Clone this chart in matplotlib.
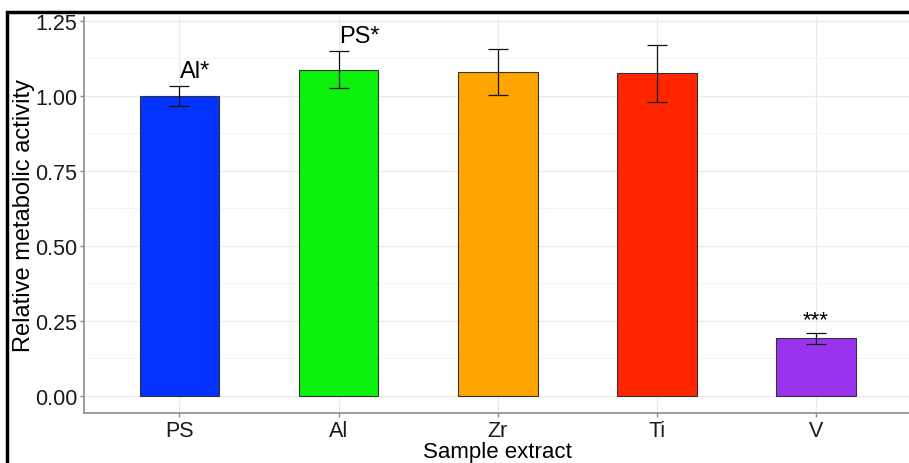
import matplotlib
matplotlib.use("Agg")
import matplotlib.pyplot as plt
from matplotlib.patches import Rectangle
from matplotlib.ticker import MultipleLocator

plt.rcParams['font.family'] = ['Liberation Sans', 'DejaVu Sans']

categories = ["PS", "Al", "Zr", "Ti", "V"]
means = [1.00, 1.088, 1.080, 1.075, 0.192]
errors = [0.033, 0.062, 0.078, 0.095, 0.018]
colors = ["#0433FF", "#0DF20D", "#FFA500", "#FF2600", "#9A33EE"]
y_ticks = [0.00, 0.25, 0.50, 0.75, 1.00, 1.25]
y_tick_labels = ["0.00", "0.25", "0.50", "0.75", "1.00", "1.25"]

fig = plt.figure(figsize=(9.09, 4.64), dpi=100)
ax = fig.add_axes([84/909, 1-414/464, (911.6-84)/909, (414-18)/464])

x = list(range(1, len(categories)+1))
ax.bar(x, means, width=0.5, color=colors, edgecolor="#333333", linewidth=0.8, zorder=3)
ax.errorbar(x, means, yerr=errors, fmt="none", ecolor="#111111", elinewidth=0.9,
            capsize=7, capthick=0.9, zorder=4)

# annotations
ax.text(1, 1.00 + 0.033 + 0.012, "Al*", ha="left", va="bottom", fontsize=17, zorder=5)
ax.text(2, 1.088 + 0.062 + 0.012, "PS*", ha="left", va="bottom", fontsize=17, zorder=5)
ax.text(5, 0.192 + 0.018 + 0.008, "***", ha="center", va="bottom", fontsize=16, zorder=5)

ax.set_xlim(0.4, 5.6)
ax.set_ylim(-0.057, 1.263)
ax.set_xticks(x)
ax.set_xticklabels(categories, fontsize=15.5)
ax.set_yticks(y_ticks)
ax.set_yticklabels(y_tick_labels, fontsize=15.5)
ax.yaxis.set_minor_locator(MultipleLocator(0.125))

ax.grid(True, which="major", color="#EBEBEB", linewidth=1.0, zorder=0)
ax.grid(True, which="minor", axis="y", color="#F4F4F4", linewidth=0.7, zorder=0)
ax.set_axisbelow(True)

for s in ["top", "right"]:
    ax.spines[s].set_visible(False)
for s in ["left", "bottom"]:
    ax.spines[s].set_color("#8C8C8C")
    ax.spines[s].set_linewidth(1.2)
ax.tick_params(axis="both", which="major", color="#8C8C8C", length=3, width=1, pad=2, labelcolor="#1a1a1a")
ax.tick_params(axis="y", which="minor", length=0)

ax.set_xlabel("Sample extract", fontsize=16, labelpad=0)
ax.set_ylabel("Relative metabolic activity", fontsize=17, labelpad=0)

# black frame (cropped at right/bottom)
fig.patches.append(Rectangle((7.5/909, -0.1), 1.2, 1 - 12.5/464 + 0.1, transform=fig.transFigure,
                             fill=False, edgecolor="black", linewidth=2.5, zorder=10))

fig.savefig("out.png", dpi=100)
